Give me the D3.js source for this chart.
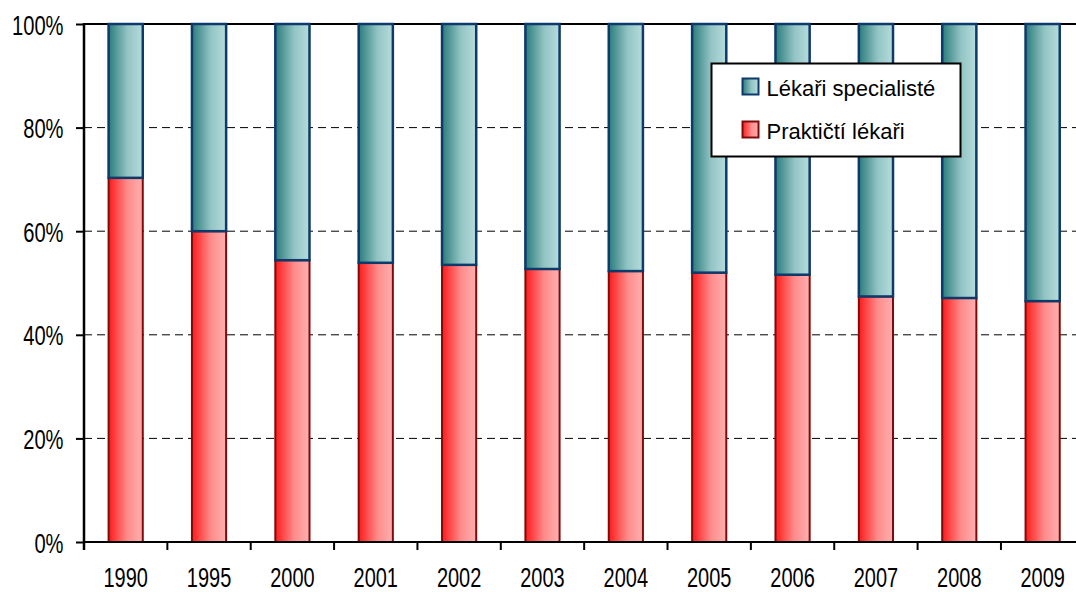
<!DOCTYPE html>
<html>
<head>
<meta charset="utf-8">
<script src="https://cdn.jsdelivr.net/npm/d3@7"></script>
<style>
  body { margin: 0; background: #fff; }
  svg { display: block; font-family: "Liberation Sans", Arial, sans-serif; }
</style>
</head>
<body>
<div id="chart"></div>
<script>
const years      = ['1990', '1995', '2000', '2001', '2002', '2003', '2004', '2005', '2006', '2007', '2008', '2009'];
const praktictí  = [70.3, 60.0, 54.4, 53.9, 53.5, 52.7, 52.3, 52.0, 51.6, 47.4, 47.1, 46.5];
const specialist = praktictí.map(v => 100 - v);   // stacked to 100 %
const yTicks     = [0, 20, 40, 60, 80, 100];
const seriesNames = ['Lékaři specialisté', 'Praktičtí lékaři'];

const width  = 1076,
      height = 592,
      margin = {top: 24, left: 84, bottom: 50},
      plotW  = 83.36 * years.length,
      plotH  = height - margin.top - margin.bottom,
      squeeze = 0.72;   // axis labels in the original are horizontally narrow

const svg = d3.select('#chart').append('svg')
  .attr('width', width)
  .attr('height', height);

// gradients for the bars
const defs = svg.append('defs');
function gradient(id, from, to) {
  const g = defs.append('linearGradient').attr('id', id)
    .attr('x1', '0%').attr('x2', '100%').attr('y1', '0%').attr('y2', '0%');
  g.append('stop').attr('offset', '0%').attr('stop-color', from);
  g.append('stop').attr('offset', '55%').attr('stop-color', d3.interpolateRgb(from, to)(0.75));
  g.append('stop').attr('offset', '100%').attr('stop-color', to);
}
gradient('gRed', '#ff1a1a', '#ffb0b0');
gradient('gTeal', '#2a7c7c', '#b6dcdc');

const g = svg.append('g')
  .attr('transform', `translate(${margin.left},${margin.top})`);

const x = d3.scaleBand().domain(years).range([0, plotW]).padding(0);
const y = d3.scaleLinear().domain([0, 100]).range([plotH, 0]);

const barW = x.bandwidth() * 0.41;

// dashed gridlines
g.selectAll('.grid')
  .data(yTicks.filter(t => t > 0 && t < 100))
  .join('line')
  .attr('class', 'grid')
  .attr('x1', 0).attr('x2', plotW)
  .attr('y1', d => y(d)).attr('y2', d => y(d))
  .attr('stroke', '#000')
  .attr('stroke-width', 1)
  .attr('stroke-dasharray', '8,5');

// top border
g.append('line')
  .attr('x1', 0).attr('x2', plotW)
  .attr('y1', y(100)).attr('y2', y(100))
  .attr('stroke', '#000').attr('stroke-width', 2);

// Praktičtí lékaři (bottom)
g.selectAll('.bar-p')
  .data(years)
  .join('rect')
  .attr('class', 'bar-p')
  .attr('x', d => x(d) + (x.bandwidth() - barW) / 2)
  .attr('width', barW)
  .attr('y', (d, i) => y(praktictí[i]))
  .attr('height', (d, i) => y(0) - y(praktictí[i]))
  .attr('fill', 'url(#gRed)')
  .attr('stroke', '#800a0a')
  .attr('stroke-width', 2);

// Lékaři specialisté (top)
g.selectAll('.bar-s')
  .data(years)
  .join('rect')
  .attr('class', 'bar-s')
  .attr('x', d => x(d) + (x.bandwidth() - barW) / 2)
  .attr('width', barW)
  .attr('y', (d, i) => y(praktictí[i] + specialist[i]))
  .attr('height', (d, i) => y(praktictí[i]) - y(praktictí[i] + specialist[i]))
  .attr('fill', 'url(#gTeal)')
  .attr('stroke', '#0d3a6a')
  .attr('stroke-width', 2.5);

// y axis
const yAxis = g.append('g')
  .call(d3.axisLeft(y).tickValues(yTicks).tickFormat(d => d + '%').tickSize(8));
yAxis.select('.domain').remove();
yAxis.selectAll('.tick line').attr('stroke', '#000').attr('stroke-width', 2);
yAxis.selectAll('text')
  .attr('font-size', 28).attr('fill', '#000')
  .attr('font-family', '"Liberation Sans", Arial, sans-serif')
  .attr('x', -20.5 / squeeze)
  .attr('dy', '0.36em')
  .attr('transform', `scale(${squeeze},1)`);
g.append('line')
  .attr('x1', 0).attr('x2', 0)
  .attr('y1', y(100) - 1).attr('y2', y(0) + 8)
  .attr('stroke', '#000').attr('stroke-width', 2.5);

// x axis: labels at band centres, ticks at band boundaries
const xAxis = g.append('g')
  .attr('transform', `translate(0,${plotH})`)
  .call(d3.axisBottom(x).tickSize(0));
xAxis.select('.domain').remove();
xAxis.selectAll('text')
  .attr('font-size', 27).attr('fill', '#000')
  .attr('font-family', '"Liberation Sans", Arial, sans-serif')
  .attr('y', 45.5).attr('dy', 0)
  .attr('transform', `scale(${squeeze + 0.02},1)`);
xAxis.selectAll('.bound')
  .data(years.slice(1))
  .join('line')
  .attr('class', 'bound')
  .attr('x1', d => x(d)).attr('x2', d => x(d))
  .attr('y1', 0).attr('y2', 8)
  .attr('stroke', '#000').attr('stroke-width', 2);
xAxis.append('line')
  .attr('x1', -1).attr('x2', plotW)
  .attr('y1', 0).attr('y2', 0)
  .attr('stroke', '#000').attr('stroke-width', 2);

// legend
const legend = svg.append('g').attr('transform', 'translate(711.5,63.5)');
legend.append('rect')
  .attr('width', 249).attr('height', 93)
  .attr('fill', '#fff').attr('stroke', '#000').attr('stroke-width', 2);

const legendFill   = ['url(#gTeal)', 'url(#gRed)'];
const legendStroke = ['#0d3a6a', '#800a0a'];
const item = legend.selectAll('.item')
  .data(seriesNames)
  .join('g')
  .attr('class', 'item')
  .attr('transform', (d, i) => `translate(31,${15 + i * 43})`);
item.append('rect')
  .attr('width', 16).attr('height', 16)
  .attr('fill', (d, i) => legendFill[i])
  .attr('stroke', (d, i) => legendStroke[i])
  .attr('stroke-width', 2);
item.append('text')
  .attr('x', 24).attr('y', 17)
  .attr('font-size', 22)
  .attr('fill', '#000')
  .text(d => d);
</script>
</body>
</html>
